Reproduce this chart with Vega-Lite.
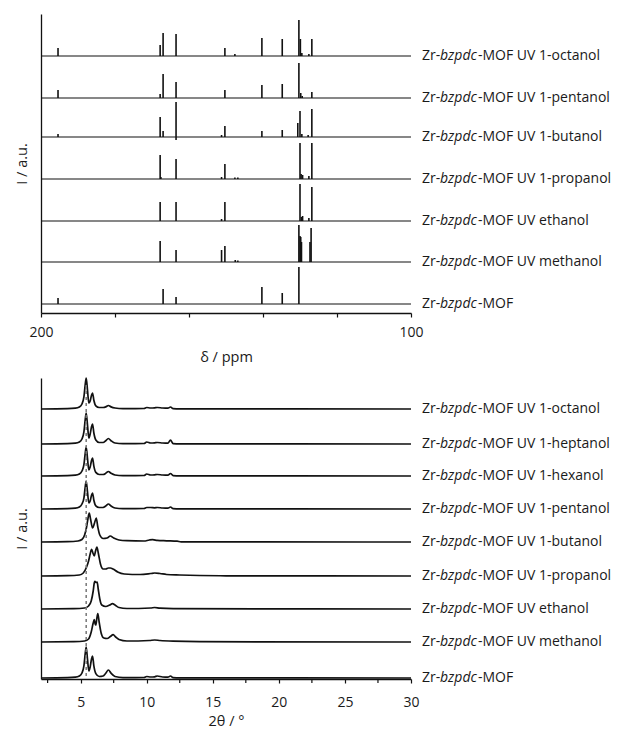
{
  "$schema": "https://vega.github.io/schema/vega-lite/v6.json",
  "padding": {"left": 14, "top": 14, "right": 0, "bottom": 0},
  "background": "white",
  "spacing": 10,
  "config": {
    "view": {"stroke": null},
    "font": "Open Sans",
    "axis": {
      "labelFont": "Open Sans", "titleFont": "Open Sans", "labelFontSize": 14, "titleFontSize": 14.5,
      "labelColor": "#1a1a1a", "titleColor": "#1a1a1a", "titleFontWeight": "normal",
      "domainColor": "#111", "domainWidth": 1.3, "tickColor": "#111", "tickWidth": 1.2, "tickSize": 4,
      "grid": false, "labelOverlap": false
    }
  },
  "datasets": {
    "nmrBase": [
      {"s": "oct", "b": 257, "lab": "-MOF UV 1-octanol"},
      {"s": "pen", "b": 215, "lab": "-MOF UV 1-pentanol"},
      {"s": "but", "b": 176, "lab": "-MOF UV 1-butanol"},
      {"s": "pro", "b": 134, "lab": "-MOF UV 1-propanol"},
      {"s": "eth", "b": 92, "lab": "-MOF UV ethanol"},
      {"s": "met", "b": 51, "lab": "-MOF UV methanol"},
      {"s": "mof", "b": 9, "lab": "-MOF"}
    ],
    "nmrPeaks": [
      {"s": "oct", "x": 195.4, "b": 257, "t": 265}, {"s": "oct", "x": 167.8, "b": 257, "t": 268}, {"s": "oct", "x": 167.0, "b": 257, "t": 280},
      {"s": "oct", "x": 163.5, "b": 257, "t": 279}, {"s": "oct", "x": 150.3, "b": 257, "t": 265}, {"s": "oct", "x": 147.6, "b": 257, "t": 259},
      {"s": "oct", "x": 140.3, "b": 257, "t": 275}, {"s": "oct", "x": 134.8, "b": 257, "t": 274}, {"s": "oct", "x": 130.3, "b": 257, "t": 293},
      {"s": "oct", "x": 129.9, "b": 257, "t": 274}, {"s": "oct", "x": 129.5, "b": 257, "t": 260}, {"s": "oct", "x": 127.6, "b": 257, "t": 259},
      {"s": "oct", "x": 126.8, "b": 257, "t": 274},
      {"s": "pen", "x": 195.4, "b": 215, "t": 223}, {"s": "pen", "x": 167.8, "b": 215, "t": 219}, {"s": "pen", "x": 167.0, "b": 215, "t": 239},
      {"s": "pen", "x": 163.5, "b": 215, "t": 231}, {"s": "pen", "x": 150.3, "b": 215, "t": 223}, {"s": "pen", "x": 140.3, "b": 215, "t": 228},
      {"s": "pen", "x": 134.8, "b": 215, "t": 229}, {"s": "pen", "x": 130.3, "b": 215, "t": 250}, {"s": "pen", "x": 129.8, "b": 215, "t": 220},
      {"s": "pen", "x": 129.4, "b": 215, "t": 217}, {"s": "pen", "x": 126.8, "b": 215, "t": 221},
      {"s": "but", "x": 195.4, "b": 176, "t": 179}, {"s": "but", "x": 167.8, "b": 176, "t": 196}, {"s": "but", "x": 167.0, "b": 176, "t": 182},
      {"s": "but", "x": 163.5, "b": 173, "t": 211}, {"s": "but", "x": 151.2, "b": 176, "t": 178}, {"s": "but", "x": 150.3, "b": 176, "t": 187},
      {"s": "but", "x": 140.3, "b": 176, "t": 182}, {"s": "but", "x": 134.8, "b": 176, "t": 183}, {"s": "but", "x": 130.6, "b": 176, "t": 190},
      {"s": "but", "x": 130.0, "b": 176, "t": 202}, {"s": "but", "x": 129.5, "b": 176, "t": 179}, {"s": "but", "x": 127.8, "b": 176, "t": 178},
      {"s": "but", "x": 126.8, "b": 176, "t": 204},
      {"s": "pro", "x": 167.8, "b": 134, "t": 158}, {"s": "pro", "x": 167.6, "b": 134, "t": 136}, {"s": "pro", "x": 163.5, "b": 134, "t": 154},
      {"s": "pro", "x": 151.2, "b": 134, "t": 136}, {"s": "pro", "x": 150.3, "b": 134, "t": 149}, {"s": "pro", "x": 147.6, "b": 134, "t": 135.5},
      {"s": "pro", "x": 146.8, "b": 134, "t": 135.5}, {"s": "pro", "x": 130.0, "b": 134, "t": 170}, {"s": "pro", "x": 129.7, "b": 134, "t": 139},
      {"s": "pro", "x": 129.3, "b": 134, "t": 138}, {"s": "pro", "x": 127.6, "b": 134, "t": 137}, {"s": "pro", "x": 126.8, "b": 134, "t": 170},
      {"s": "eth", "x": 167.8, "b": 92, "t": 111}, {"s": "eth", "x": 163.5, "b": 92, "t": 111}, {"s": "eth", "x": 151.2, "b": 92, "t": 94},
      {"s": "eth", "x": 150.3, "b": 92, "t": 111}, {"s": "eth", "x": 130.0, "b": 92, "t": 129}, {"s": "eth", "x": 129.6, "b": 92, "t": 96},
      {"s": "eth", "x": 129.3, "b": 92, "t": 97}, {"s": "eth", "x": 127.6, "b": 92, "t": 95}, {"s": "eth", "x": 126.8, "b": 92, "t": 126},
      {"s": "met", "x": 167.8, "b": 51, "t": 72}, {"s": "met", "x": 163.5, "b": 51, "t": 63}, {"s": "met", "x": 151.2, "b": 51, "t": 63},
      {"s": "met", "x": 150.3, "b": 51, "t": 67}, {"s": "met", "x": 147.5, "b": 51, "t": 53}, {"s": "met", "x": 146.8, "b": 51, "t": 52.5},
      {"s": "met", "x": 130.3, "b": 51, "t": 88}, {"s": "met", "x": 130.0, "b": 51, "t": 77}, {"s": "met", "x": 129.8, "b": 51, "t": 76},
      {"s": "met", "x": 129.6, "b": 51, "t": 71}, {"s": "met", "x": 127.3, "b": 51, "t": 71}, {"s": "met", "x": 127.0, "b": 51, "t": 85},
      {"s": "mof", "x": 195.4, "b": 9, "t": 15}, {"s": "mof", "x": 167.0, "b": 9, "t": 24}, {"s": "mof", "x": 163.5, "b": 9, "t": 16},
      {"s": "mof", "x": 140.3, "b": 9, "t": 26}, {"s": "mof", "x": 134.8, "b": 9, "t": 20}, {"s": "mof", "x": 130.3, "b": 9, "t": 46}
    ],
    "xrdLab": [
      {"s": "oct", "b": 270, "lab": "-MOF UV 1-octanol"},
      {"s": "hep", "b": 235, "lab": "-MOF UV 1-heptanol"},
      {"s": "hex", "b": 203, "lab": "-MOF UV 1-hexanol"},
      {"s": "pen", "b": 170, "lab": "-MOF UV 1-pentanol"},
      {"s": "but", "b": 137, "lab": "-MOF UV 1-butanol"},
      {"s": "pro", "b": 103, "lab": "-MOF UV 1-propanol"},
      {"s": "eth", "b": 70, "lab": "-MOF UV ethanol"},
      {"s": "met", "b": 37, "lab": "-MOF UV methanol"},
      {"s": "mof", "b": 1, "lab": "-MOF"}
    ],
    "minorTicks": [{"x": 2.5}, {"x": 7.5}, {"x": 12.5}, {"x": 17.5}, {"x": 22.5}, {"x": 27.5}],
    "dash": [{"x": 5.42, "y1": 3, "y2": 296}],
    "xrd": [
      {"s":"oct","x":2,"y":270},{"s":"oct","x":4.0,"y":270.3},{"s":"oct","x":4.6,"y":270.8},{"s":"oct","x":4.9,"y":272},{"s":"oct","x":5.1,"y":275},
      {"s":"oct","x":5.25,"y":282.4},{"s":"oct","x":5.35,"y":294.8},{"s":"oct","x":5.42,"y":301},{"s":"oct","x":5.52,"y":288.6},{"s":"oct","x":5.62,"y":276},
      {"s":"oct","x":5.72,"y":278},{"s":"oct","x":5.82,"y":283.6},{"s":"oct","x":5.9,"y":286},{"s":"oct","x":6.0,"y":278.8},{"s":"oct","x":6.15,"y":273.2},
      {"s":"oct","x":6.4,"y":271.5},{"s":"oct","x":6.7,"y":271.5},{"s":"oct","x":6.9,"y":272.1},{"s":"oct","x":7.1,"y":273.5},{"s":"oct","x":7.3,"y":272.1},
      {"s":"oct","x":7.6,"y":271},{"s":"oct","x":8.2,"y":270.4},{"s":"oct","x":9.8,"y":270.5},{"s":"oct","x":10.0,"y":271.5},{"s":"oct","x":10.3,"y":271},
      {"s":"oct","x":10.6,"y":271.2},{"s":"oct","x":10.8,"y":271.5},{"s":"oct","x":11.2,"y":271},{"s":"oct","x":11.6,"y":270.8},{"s":"oct","x":11.8,"y":272},
      {"s":"oct","x":12.0,"y":270.4},{"s":"oct","x":12.5,"y":270.2},{"s":"oct","x":30,"y":270},

      {"s":"hep","x":2,"y":235},{"s":"hep","x":4.0,"y":235.3},{"s":"hep","x":4.6,"y":235.8},{"s":"hep","x":4.9,"y":237},{"s":"hep","x":5.1,"y":240},
      {"s":"hep","x":5.25,"y":247.4},{"s":"hep","x":5.35,"y":259.8},{"s":"hep","x":5.42,"y":266},{"s":"hep","x":5.52,"y":253.6},{"s":"hep","x":5.62,"y":241},
      {"s":"hep","x":5.72,"y":245},{"s":"hep","x":5.82,"y":252},{"s":"hep","x":5.9,"y":255},{"s":"hep","x":6.0,"y":246},{"s":"hep","x":6.15,"y":239},
      {"s":"hep","x":6.4,"y":236.5},{"s":"hep","x":6.7,"y":236.5},{"s":"hep","x":6.9,"y":238.3},{"s":"hep","x":7.1,"y":240.5},{"s":"hep","x":7.3,"y":238.3},
      {"s":"hep","x":7.6,"y":236},{"s":"hep","x":8.2,"y":235.4},{"s":"hep","x":9.8,"y":235.5},{"s":"hep","x":10.0,"y":237},{"s":"hep","x":10.3,"y":236},
      {"s":"hep","x":10.6,"y":236.2},{"s":"hep","x":10.8,"y":236.5},{"s":"hep","x":11.2,"y":236},{"s":"hep","x":11.6,"y":235.8},{"s":"hep","x":11.8,"y":239},
      {"s":"hep","x":12.0,"y":235.4},{"s":"hep","x":12.5,"y":235.2},{"s":"hep","x":30,"y":235},

      {"s":"hex","x":2,"y":203},{"s":"hex","x":4.0,"y":203.3},{"s":"hex","x":4.6,"y":203.8},{"s":"hex","x":4.9,"y":205},{"s":"hex","x":5.1,"y":208},
      {"s":"hex","x":5.25,"y":214.6},{"s":"hex","x":5.35,"y":226.2},{"s":"hex","x":5.42,"y":232},{"s":"hex","x":5.52,"y":220.4},{"s":"hex","x":5.62,"y":209},
      {"s":"hex","x":5.72,"y":212},{"s":"hex","x":5.82,"y":218.3},{"s":"hex","x":5.9,"y":221},{"s":"hex","x":6.0,"y":212.9},{"s":"hex","x":6.15,"y":206.6},
      {"s":"hex","x":6.4,"y":204.5},{"s":"hex","x":6.7,"y":204.5},{"s":"hex","x":6.9,"y":205.7},{"s":"hex","x":7.1,"y":207.5},{"s":"hex","x":7.3,"y":205.7},
      {"s":"hex","x":7.6,"y":204},{"s":"hex","x":8.2,"y":203.4},{"s":"hex","x":9.8,"y":203.5},{"s":"hex","x":10.0,"y":205},{"s":"hex","x":10.3,"y":204},
      {"s":"hex","x":10.6,"y":204.2},{"s":"hex","x":10.8,"y":204.5},{"s":"hex","x":11.2,"y":204},{"s":"hex","x":11.6,"y":203.8},{"s":"hex","x":11.8,"y":205.5},
      {"s":"hex","x":12.0,"y":203.4},{"s":"hex","x":12.5,"y":203.2},{"s":"hex","x":30,"y":203},

      {"s":"pen","x":2,"y":170},{"s":"pen","x":4.0,"y":170.3},{"s":"pen","x":4.6,"y":170.8},{"s":"pen","x":4.9,"y":172},{"s":"pen","x":5.1,"y":175},
      {"s":"pen","x":5.25,"y":181.2},{"s":"pen","x":5.35,"y":192.4},{"s":"pen","x":5.42,"y":198},{"s":"pen","x":5.52,"y":186.8},{"s":"pen","x":5.62,"y":176},
      {"s":"pen","x":5.72,"y":178},{"s":"pen","x":5.82,"y":183.6},{"s":"pen","x":5.9,"y":186},{"s":"pen","x":6.0,"y":178.8},{"s":"pen","x":6.15,"y":173.2},
      {"s":"pen","x":6.4,"y":171.5},{"s":"pen","x":6.7,"y":171.5},{"s":"pen","x":6.9,"y":173},{"s":"pen","x":7.1,"y":175},{"s":"pen","x":7.3,"y":173},
      {"s":"pen","x":7.6,"y":171},{"s":"pen","x":8.2,"y":170.4},{"s":"pen","x":9.8,"y":170.5},{"s":"pen","x":10.0,"y":171.5},{"s":"pen","x":10.3,"y":171.5},
      {"s":"pen","x":10.6,"y":171.2},{"s":"pen","x":10.8,"y":171.5},{"s":"pen","x":11.2,"y":171},{"s":"pen","x":11.6,"y":170.8},{"s":"pen","x":11.8,"y":172},
      {"s":"pen","x":12.0,"y":170.4},{"s":"pen","x":12.5,"y":170.2},{"s":"pen","x":30,"y":170},

      {"s":"but","x":2,"y":137},{"s":"but","x":4.0,"y":137.3},{"s":"but","x":4.8,"y":138},{"s":"but","x":5.1,"y":139.5},{"s":"but","x":5.3,"y":144},
      {"s":"but","x":5.45,"y":152},{"s":"but","x":5.55,"y":160},{"s":"but","x":5.65,"y":166},{"s":"but","x":5.75,"y":160},{"s":"but","x":5.9,"y":151},
      {"s":"but","x":6.05,"y":156},{"s":"but","x":6.18,"y":161},{"s":"but","x":6.3,"y":152},{"s":"but","x":6.45,"y":144},{"s":"but","x":6.7,"y":140.5},
      {"s":"but","x":7.0,"y":141},{"s":"but","x":7.24,"y":143},{"s":"but","x":7.5,"y":141},{"s":"but","x":7.9,"y":139},{"s":"but","x":8.5,"y":138.3},
      {"s":"but","x":9.8,"y":138},{"s":"but","x":10.2,"y":139},{"s":"but","x":10.45,"y":139.3},{"s":"but","x":10.8,"y":138.6},{"s":"but","x":11.5,"y":138.2},
      {"s":"but","x":12.3,"y":137.8},{"s":"but","x":12.6,"y":137.2},{"s":"but","x":30,"y":137},

      {"s":"pro","x":2,"y":103},{"s":"pro","x":4.0,"y":103.3},{"s":"pro","x":4.9,"y":104},{"s":"pro","x":5.2,"y":106},{"s":"pro","x":5.45,"y":112},
      {"s":"pro","x":5.6,"y":118},{"s":"pro","x":5.72,"y":125},{"s":"pro","x":5.83,"y":129.7},{"s":"pro","x":5.93,"y":126},{"s":"pro","x":6.03,"y":123},
      {"s":"pro","x":6.13,"y":128},{"s":"pro","x":6.23,"y":132},{"s":"pro","x":6.35,"y":125},{"s":"pro","x":6.5,"y":115},{"s":"pro","x":6.7,"y":110},
      {"s":"pro","x":6.9,"y":110},{"s":"pro","x":7.1,"y":111},{"s":"pro","x":7.25,"y":111},{"s":"pro","x":7.45,"y":110},{"s":"pro","x":7.8,"y":107},
      {"s":"pro","x":8.3,"y":105},{"s":"pro","x":9.5,"y":104.5},{"s":"pro","x":10.3,"y":105.5},{"s":"pro","x":10.6,"y":106},{"s":"pro","x":11.0,"y":105.5},
      {"s":"pro","x":11.5,"y":104.5},{"s":"pro","x":12.5,"y":104},{"s":"pro","x":14,"y":103.5},{"s":"pro","x":16,"y":103.2},{"s":"pro","x":30,"y":103},

      {"s":"eth","x":2,"y":70},{"s":"eth","x":4.5,"y":70.3},{"s":"eth","x":5.3,"y":71},{"s":"eth","x":5.6,"y":73},{"s":"eth","x":5.8,"y":78},
      {"s":"eth","x":5.95,"y":88},{"s":"eth","x":6.03,"y":96},{"s":"eth","x":6.08,"y":97.7},{"s":"eth","x":6.15,"y":96.5},{"s":"eth","x":6.25,"y":97},
      {"s":"eth","x":6.33,"y":90},{"s":"eth","x":6.45,"y":80},{"s":"eth","x":6.6,"y":74},{"s":"eth","x":6.9,"y":72.5},{"s":"eth","x":7.2,"y":74},
      {"s":"eth","x":7.41,"y":75.3},{"s":"eth","x":7.6,"y":74},{"s":"eth","x":7.9,"y":71.5},{"s":"eth","x":8.5,"y":70.5},{"s":"eth","x":10.3,"y":71},
      {"s":"eth","x":10.6,"y":71.5},{"s":"eth","x":11.0,"y":70.8},{"s":"eth","x":12,"y":70.4},{"s":"eth","x":30,"y":70},

      {"s":"met","x":2,"y":37},{"s":"met","x":4.5,"y":37.3},{"s":"met","x":5.3,"y":38},{"s":"met","x":5.6,"y":40},{"s":"met","x":5.8,"y":47},
      {"s":"met","x":5.95,"y":56},{"s":"met","x":6.03,"y":59.3},{"s":"met","x":6.1,"y":55},{"s":"met","x":6.15,"y":54},{"s":"met","x":6.22,"y":60},
      {"s":"met","x":6.3,"y":65.3},{"s":"met","x":6.4,"y":57},{"s":"met","x":6.55,"y":46},{"s":"met","x":6.75,"y":41},{"s":"met","x":7.0,"y":40.5},
      {"s":"met","x":7.25,"y":42.5},{"s":"met","x":7.46,"y":44.3},{"s":"met","x":7.65,"y":42},{"s":"met","x":7.9,"y":39.5},{"s":"met","x":8.5,"y":38},
      {"s":"met","x":10.2,"y":38.5},{"s":"met","x":10.6,"y":39},{"s":"met","x":11.0,"y":38.5},{"s":"met","x":12,"y":37.8},{"s":"met","x":14,"y":37.3},
      {"s":"met","x":30,"y":37},

      {"s":"mof","x":2,"y":1},{"s":"mof","x":4.0,"y":1.3},{"s":"mof","x":4.6,"y":1.8},{"s":"mof","x":4.9,"y":3},{"s":"mof","x":5.1,"y":6},
      {"s":"mof","x":5.25,"y":13.4},{"s":"mof","x":5.35,"y":25.8},{"s":"mof","x":5.42,"y":32},{"s":"mof","x":5.52,"y":19.6},{"s":"mof","x":5.62,"y":8},
      {"s":"mof","x":5.72,"y":12},{"s":"mof","x":5.82,"y":19.7},{"s":"mof","x":5.9,"y":23},{"s":"mof","x":6.0,"y":13.1},{"s":"mof","x":6.15,"y":5.4},
      {"s":"mof","x":6.4,"y":2.5},{"s":"mof","x":6.7,"y":3},{"s":"mof","x":6.9,"y":5.8},{"s":"mof","x":7.1,"y":9},{"s":"mof","x":7.3,"y":5.8},
      {"s":"mof","x":7.6,"y":2.5},{"s":"mof","x":8.2,"y":1.4},{"s":"mof","x":9.8,"y":1.5},{"s":"mof","x":10.0,"y":2.5},{"s":"mof","x":10.3,"y":2},
      {"s":"mof","x":10.6,"y":2.2},{"s":"mof","x":10.8,"y":3},{"s":"mof","x":11.2,"y":2},{"s":"mof","x":11.6,"y":1.8},{"s":"mof","x":11.8,"y":3},
      {"s":"mof","x":12.0,"y":1.4},{"s":"mof","x":12.5,"y":1.2},{"s":"mof","x":30,"y":1}
    ]
  },
  "vconcat": [
    {
      "width": 370,
      "height": 299,
      "layer": [
        {
          "data": {"name": "nmrBase"},
          "mark": {"type": "rule", "color": "#111", "strokeWidth": 1.2},
          "encoding": {
            "y": {"field": "b", "type": "quantitative", "scale": {"domain": [0, 299], "nice": false, "zero": false},
                  "axis": {"title": "I / a.u.", "labels": false, "ticks": false, "titlePadding": 12}}
          }
        },
        {
          "data": {"name": "nmrPeaks"},
          "mark": {"type": "rule", "color": "#111", "strokeWidth": 1.6},
          "encoding": {
            "x": {"field": "x", "type": "quantitative", "scale": {"domain": [200, 100], "nice": false, "zero": false},
                  "axis": {"title": "δ / ppm", "values": [200, 190, 180, 170, 160, 150, 140, 130, 120, 110, 100],
                           "labelExpr": "datum.value % 50 === 0 ? datum.label : ''", "labelPadding": 8, "titlePadding": 11, "labelFlush": false}},
            "y": {"field": "b", "type": "quantitative"},
            "y2": {"field": "t"}
          }
        },
        {
          "data": {"name": "nmrBase"},
          "mark": {"type": "text", "align": "left", "baseline": "middle", "dx": 11, "fontSize": 14, "font": "Open Sans", "color": "#1a1a1a"},
          "encoding": {"x": {"datum": 100}, "y": {"field": "b", "type": "quantitative"}, "text": {"value": "Zr-"}}
        },
        {
          "data": {"name": "nmrBase"},
          "mark": {"type": "text", "align": "left", "baseline": "middle", "dx": 29, "fontSize": 14, "font": "Open Sans", "fontStyle": "italic", "color": "#1a1a1a"},
          "encoding": {"x": {"datum": 100}, "y": {"field": "b", "type": "quantitative"}, "text": {"value": "bzpdc"}}
        },
        {
          "data": {"name": "nmrBase"},
          "mark": {"type": "text", "align": "left", "baseline": "middle", "dx": 67, "fontSize": 14, "font": "Open Sans", "color": "#1a1a1a"},
          "encoding": {"x": {"datum": 100}, "y": {"field": "b", "type": "quantitative"}, "text": {"field": "lab"}}
        }
      ]
    },
    {
      "width": 370,
      "height": 301,
      "layer": [
        {
          "data": {"name": "xrd"},
          "mark": {"type": "line", "color": "#111", "strokeWidth": 1.7, "interpolate": "monotone"},
          "encoding": {
            "x": {"field": "x", "type": "quantitative", "scale": {"domain": [2, 30], "nice": false, "zero": false},
                  "axis": {"title": "2θ / °", "values": [5, 10, 15, 20, 25, 30], "format": "d", "labelPadding": 12, "titlePadding": 5, "labelFlush": false, "labelOverlap": false}},
            "y": {"field": "y", "type": "quantitative", "scale": {"domain": [0, 301], "nice": false, "zero": false},
                  "axis": {"title": "I / a.u.", "labels": false, "ticks": false, "titlePadding": 12}},
            "detail": {"field": "s", "type": "nominal"}
          }
        },
        {
          "data": {"name": "dash"},
          "mark": {"type": "rule", "color": "#777", "strokeWidth": 1.5, "strokeDash": [3, 3]},
          "encoding": {
            "x": {"field": "x", "type": "quantitative"},
            "y": {"field": "y1", "type": "quantitative"},
            "y2": {"field": "y2"}
          }
        },
        {
          "data": {"name": "minorTicks"},
          "mark": {"type": "rule", "color": "#111", "strokeWidth": 1.2},
          "encoding": {
            "x": {"field": "x", "type": "quantitative"},
            "y": {"datum": 0},
            "y2": {"datum": -4}
          }
        },
        {
          "data": {"name": "xrdLab"},
          "mark": {"type": "text", "align": "left", "baseline": "middle", "dx": 11, "fontSize": 14, "font": "Open Sans", "color": "#1a1a1a"},
          "encoding": {"x": {"datum": 30}, "y": {"field": "b", "type": "quantitative"}, "text": {"value": "Zr-"}}
        },
        {
          "data": {"name": "xrdLab"},
          "mark": {"type": "text", "align": "left", "baseline": "middle", "dx": 29, "fontSize": 14, "font": "Open Sans", "fontStyle": "italic", "color": "#1a1a1a"},
          "encoding": {"x": {"datum": 30}, "y": {"field": "b", "type": "quantitative"}, "text": {"value": "bzpdc"}}
        },
        {
          "data": {"name": "xrdLab"},
          "mark": {"type": "text", "align": "left", "baseline": "middle", "dx": 67, "fontSize": 14, "font": "Open Sans", "color": "#1a1a1a"},
          "encoding": {"x": {"datum": 30}, "y": {"field": "b", "type": "quantitative"}, "text": {"field": "lab"}}
        }
      ]
    }
  ]
}
